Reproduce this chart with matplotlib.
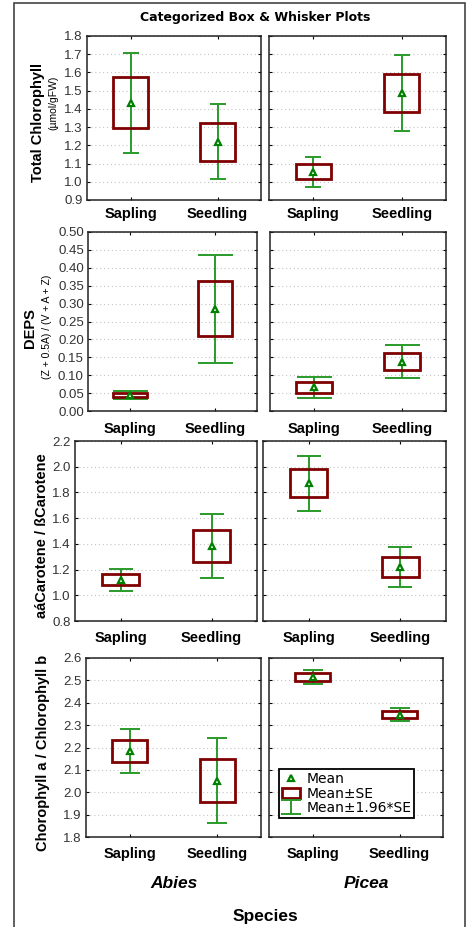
import matplotlib
matplotlib.use("Agg")
import matplotlib.pyplot as plt
from matplotlib.patches import Rectangle
import numpy as np

plt.rcParams['font.family'] = ['Liberation Sans', 'DejaVu Sans']

# ---------------- data ----------------
species = ["Abies", "Picea"]
stages = ["Sapling", "Seedling"]

# Total Chlorophyll (umol/gFW)
chl_mean = {"Abies": [1.433, 1.219], "Picea": [1.056, 1.487]}
chl_se = {"Abies": [0.140, 0.105], "Picea": [0.042, 0.106]}

# DEPS
deps_mean = {"Abies": [0.044, 0.286], "Picea": [0.066, 0.138]}
deps_se = {"Abies": [0.0055, 0.077], "Picea": [0.0148, 0.0235]}

# alpha-carotene / beta-carotene
car_mean = {"Abies": [1.120, 1.382], "Picea": [1.871, 1.220]}
car_se = {"Abies": [0.043, 0.126], "Picea": [0.109, 0.078]}

# Chl a / Chl b
ab_mean = {"Abies": [2.185, 2.052], "Picea": [2.515, 2.347]}
ab_se = {"Abies": [0.050, 0.097], "Picea": [0.0165, 0.0145]}

y_ticks_chl = [0.9, 1.0, 1.1, 1.2, 1.3, 1.4, 1.5, 1.6, 1.7, 1.8]
y_ticks_deps = [0.00, 0.05, 0.10, 0.15, 0.20, 0.25, 0.30, 0.35, 0.40, 0.45, 0.50]
y_ticks_car = [0.8, 1.0, 1.2, 1.4, 1.6, 1.8, 2.0, 2.2]
y_ticks_ab = [1.8, 1.9, 2.0, 2.1, 2.2, 2.3, 2.4, 2.5, 2.6]

rows = [
    dict(mean=chl_mean, se=chl_se, ticks=y_ticks_chl, fmt="%.1f",
         label="Total Chlorophyll", sub="(µmol/gFW)"),
    dict(mean=deps_mean, se=deps_se, ticks=y_ticks_deps, fmt="%.2f",
         label="DEPS", sub="(Z + 0.5A) / (V + A + Z)"),
    dict(mean=car_mean, se=car_se, ticks=y_ticks_car, fmt="%.1f",
         label="aáCarotene / ßCarotene", sub=None),
    dict(mean=ab_mean, se=ab_se, ticks=y_ticks_ab, fmt="%.1f",
         label="Chorophyll a / Chlorophyll b", sub=None),
]

# ---------------- layout ----------------
W, H = 470, 927
fig = plt.figure(figsize=(W / 100, H / 100), dpi=100)

def px_axes(l, t, r, b):
    return fig.add_axes([l / W, 1 - b / H, (r - l) / W, (b - t) / H])

panel_px = [
    [(87, 36, 261, 200), (269, 36, 446, 200)],
    [(88, 232, 257, 411), (270, 232, 446, 411)],
    [(75, 441, 257, 621), (263, 441, 446, 621)],
    [(86, 658, 261, 837), (269, 658, 443, 837)],
]
label_pads = [5, 8, 7, 7]
cap_sizes = [5.8, 12.6, 8.6, 7.2]
ylabel_px = [(38, 123), (30, 328), (42, 536), (43, 753)]
sub_px = [(53, 103), (47, 327), None, None]

box_color = "#7f0000"
wh_color = "#2a9a2a"
mean_color = "#008000"

# outer frame
fig.add_artist(Rectangle((14 / W, -0.01), (465 - 14) / W, 1.01 - 3 / H,
                         transform=fig.transFigure, fill=False,
                         edgecolor="#444444", linewidth=1.2))

fig.text(0.542, 1 - 18 / H, "Categorized Box & Whisker Plots", ha="center",
         va="center", fontsize=9, fontweight="bold", family="DejaVu Sans")

x = np.arange(len(stages))
bw = 0.4
for ri, row in enumerate(rows):
    for si, sp in enumerate(species):
        ax = px_axes(*panel_px[ri][si])
        m = np.array(row["mean"][sp])
        se = np.array(row["se"][sp])
        ticks = row["ticks"]
        ax.set_xlim(-0.5, 1.5)
        ax.set_ylim(ticks[0], ticks[-1])
        ax.set_yticks(ticks)
        ax.yaxis.grid(True, linestyle=(0, (1, 2.5)), color="#c4c4c4", linewidth=0.8)
        ax.set_axisbelow(True)
        eb = ax.errorbar(x, m, yerr=1.96 * se, fmt="none", ecolor=wh_color,
                         elinewidth=1.4, capsize=cap_sizes[ri], capthick=1.4,
                         zorder=3, label="Mean±1.96*SE")
        rect = None
        for xi, mi, si_ in zip(x, m, se):
            rect = Rectangle((xi - bw / 2, mi - si_), bw, 2 * si_, fill=False,
                             edgecolor=box_color, linewidth=2, zorder=4,
                             label="Mean±SE")
            ax.add_patch(rect)
        mk, = ax.plot(x, m, linestyle="none", marker="^", markersize=5,
                      markerfacecolor="white", markeredgecolor=mean_color,
                      markeredgewidth=1.6, zorder=5, label="Mean")
        ax.set_xticks(x)
        ax.set_xticklabels(stages, fontsize=10.5, fontweight="bold")
        ax.tick_params(axis="x", direction="in", length=2, top=True,
                       pad=label_pads[ri], width=0.8)
        ax.tick_params(axis="y", direction="in", length=2, right=True,
                       labelsize=9.5, labelcolor="#333333", width=0.8, pad=3)
        if si == 0:
            ax.yaxis.set_major_formatter(matplotlib.ticker.FormatStrFormatter(row["fmt"]))
        else:
            ax.set_yticklabels([])
        for s in ax.spines.values():
            s.set_linewidth(1.1)
            s.set_color("#222222")
        if ri == 3 and si == 1:
            leg = ax.legend([mk, rect, eb], ["Mean", "Mean±SE", "Mean±1.96*SE"],
                            loc="lower left", bbox_to_anchor=(0.057, 0.106),
                            prop={"family": "DejaVu Sans", "size": 10},
                            frameon=True, fancybox=False,
                            edgecolor="black", framealpha=1, borderpad=0.2,
                            handlelength=1.3, handletextpad=0.5,
                            labelspacing=0.05, borderaxespad=0)
            leg.get_frame().set_linewidth(1.3)
    lx, ly = ylabel_px[ri]
    fig.text(lx / W, 1 - ly / H, row["label"], rotation=90, ha="center",
             va="center", fontsize=10.5, fontweight="bold")
    if sub_px[ri] is not None:
        sx, sy = sub_px[ri]
        fig.text(sx / W, 1 - sy / H, row["sub"], rotation=90, ha="center",
                 va="center", fontsize=7.5)

fig.text(174 / W, 1 - 884 / H, "Abies", ha="center", va="center",
         fontsize=12.5, fontweight="bold", style="italic")
fig.text(366 / W, 1 - 884 / H, "Picea", ha="center", va="center",
         fontsize=12.5, fontweight="bold", style="italic")
fig.text(265 / W, 1 - 916 / H, "Species", ha="center", va="center",
         fontsize=12.5, fontweight="bold")

fig.savefig("out.png", dpi=100, facecolor="white")
